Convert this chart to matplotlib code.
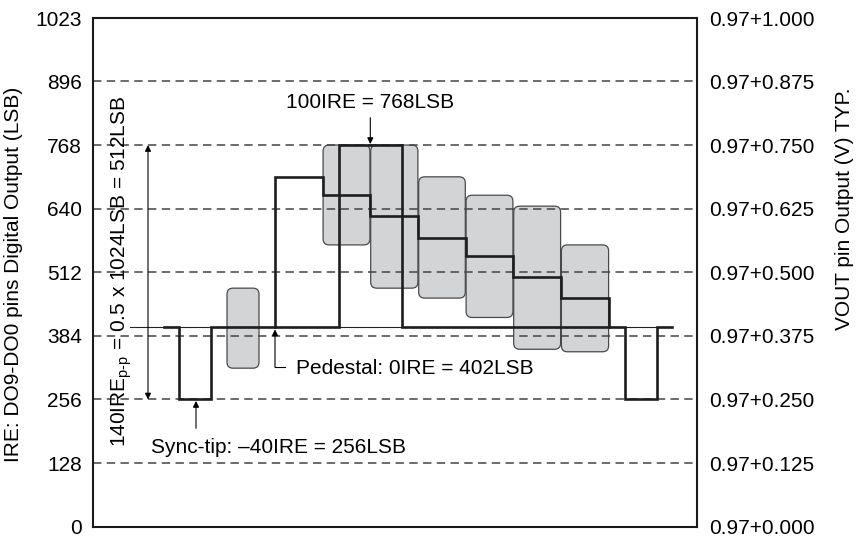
import matplotlib
matplotlib.use("Agg")
import matplotlib.pyplot as plt
from matplotlib.patches import FancyBboxPatch

plt.rcParams['font.family'] = ['Liberation Sans', 'DejaVu Sans']
plt.rcParams['mathtext.fontset'] = 'custom'
plt.rcParams['mathtext.rm'] = 'Liberation Sans'
plt.rcParams['mathtext.it'] = 'Liberation Sans'

# ---------------- data ----------------
# y ticks (LSB) and right-axis voltage labels
lsb_ticks = [0, 128, 256, 384, 512, 640, 768, 896, 1023]
lsb_labels = ["0", "128", "256", "384", "512", "640", "768", "896", "1023"]
vout_labels = ["0.97+0.000", "0.97+0.125", "0.97+0.250", "0.97+0.375", "0.97+0.500",
               "0.97+0.625", "0.97+0.750", "0.97+0.875", "0.97+1.000"]
grid_levels = [128, 256, 384, 512, 640, 768, 896]

# levels (LSB)
pedestal = 402
sync_tip = 256
white = 768

# time positions (arbitrary units along the line)
line_start, line_end = 164, 672
sync1 = (179, 211)
sync2 = (625, 657)
burst_t = (227, 259)
burst_lo, burst_hi = 319, 480
step_edges = [275, 322.7, 370.3, 418.3, 465.7, 513.3, 561.0, 609.0]
step_levels = [704, 667, 625, 581, 545, 502, 460]
chroma_hi = [None, 768, 768, 704, 667, 645, 567]
chroma_lo = [None, 567, 480, 460, 421, 357, 352]
pulse_t = (339, 402)
ref_line_t = (130, 672)

# ---------------- figure ----------------
W, H = 858, 538
fig = plt.figure(figsize=(W / 100, H / 100), dpi=100)
x0, x1, ytop, ybot = 93, 697, 18.3, 526.7
ax = fig.add_axes([x0 / W, 1 - ybot / H, (x1 - x0) / W, (ybot - ytop) / H])
ax.set_xlim(x0, x1)
ax.set_ylim(0, 1023)

# aspect for rounded corners (y units per pixel / x units per pixel)
asp = (1023 / (ybot - ytop)) / ((x1 - x0) / (x1 - x0))

box_kw = dict(boxstyle="round,pad=0,rounding_size=6", mutation_aspect=asp,
              facecolor="#d3d4d6", edgecolor="#4a4a4a", lw=0.9, zorder=1)

# burst box
ax.add_patch(FancyBboxPatch((burst_t[0], burst_lo), burst_t[1] - burst_t[0],
                            burst_hi - burst_lo, **box_kw))
# chroma boxes
for i in range(len(step_levels)):
    if chroma_hi[i] is None:
        continue
    xa, xb = step_edges[i], step_edges[i + 1]
    ax.add_patch(FancyBboxPatch((xa + 0.4, chroma_lo[i]), xb - xa - 0.8,
                                chroma_hi[i] - chroma_lo[i], **box_kw))

# dashed grid
for g in grid_levels:
    ax.axhline(g, color="#444444", lw=1.1, ls=(0, (5.5, 3.5)), zorder=2)

# thin pedestal reference line
ax.plot(ref_line_t, [pedestal, pedestal], color="#222222", lw=0.8, zorder=3)

# waveform A (sync + staircase)
xa = [line_start, sync1[0], sync1[0], sync1[1], sync1[1], step_edges[0], step_edges[0]]
ya = [pedestal, pedestal, sync_tip, sync_tip, pedestal, pedestal, step_levels[0]]
for i in range(1, len(step_levels)):
    xa += [step_edges[i], step_edges[i]]
    ya += [step_levels[i - 1], step_levels[i]]
xa += [step_edges[-1], step_edges[-1], sync2[0], sync2[0], sync2[1], sync2[1], line_end]
ya += [step_levels[-1], pedestal, pedestal, sync_tip, sync_tip, pedestal, pedestal]
ax.plot(xa, ya, color="#1e1e1e", lw=1.9, solid_joinstyle="miter", zorder=4)

# waveform B (100 IRE white pulse)
xb = [step_edges[0], pulse_t[0], pulse_t[0], pulse_t[1], pulse_t[1], step_edges[-1]]
yb = [pedestal, pedestal, white, white, pedestal, pedestal]
ax.plot(xb, yb, color="#1e1e1e", lw=1.9, solid_joinstyle="miter", zorder=4)

# ---------------- annotations ----------------
fs = 15
arr = dict(arrowstyle="-|>", lw=0.8, color="black", mutation_scale=9,
           shrinkA=0, shrinkB=0)
darr = dict(arrowstyle="<|-|>", lw=0.8, color="black", mutation_scale=9,
            shrinkA=0, shrinkB=0)

# 140 IRE p-p double arrow
ax.annotate("", xy=(148, white), xytext=(148, sync_tip), arrowprops=darr, zorder=5)
ax.text(121.5, 514, r"140IRE$_{\mathrm{p\text{-}p}}$ = 0.5 x 1024LSB = 512LSB",
        rotation=90, ha="center", va="center", fontsize=fs)

# 100IRE
ax.text(370, 854, "100IRE = 768LSB", ha="center", va="center", fontsize=fs)
ax.annotate("", xy=(370.3, 770), xytext=(370.3, 823), arrowprops=arr, zorder=5)

# Pedestal
ax.plot([285, 275], [321, 321], color="black", lw=0.8, zorder=5)
ax.annotate("", xy=(275, 397), xytext=(275, 321), arrowprops=arr, zorder=5)
ax.text(296, 319, "Pedestal: 0IRE = 402LSB", ha="left", va="center", fontsize=fs)

# Sync tip
ax.annotate("", xy=(196, 253), xytext=(196, 198), arrowprops=arr, zorder=5)
ax.text(151, 160, "Sync-tip: \u201340IRE = 256LSB", ha="left", va="center", fontsize=fs)

# ---------------- axes styling ----------------
ax.set_xticks([])
ax.set_yticks(lsb_ticks)
ax.set_yticklabels(lsb_labels, fontsize=fs)
ax.tick_params(axis="y", length=0, pad=8)
for s in ax.spines.values():
    s.set_linewidth(1.5)
    s.set_color("#1a1a1a")

ax2 = ax.twinx()
ax2.set_ylim(0, 1023)
ax2.set_yticks(lsb_ticks)
ax2.set_yticklabels(vout_labels, fontsize=fs)
ax2.tick_params(axis="y", length=0, pad=9)
for s in ax2.spines.values():
    s.set_visible(False)

fig.text(14 / W, 1 - 274 / H, "IRE: DO9-DO0 pins Digital Output (LSB)",
         rotation=90, ha="center", va="center", fontsize=fs)
fig.text(844 / W, 1 - 88 / H, "VOUT pin Output (V) TYP.",
         rotation=90, ha="center", va="top", fontsize=fs)

fig.savefig("out.png", dpi=100)
